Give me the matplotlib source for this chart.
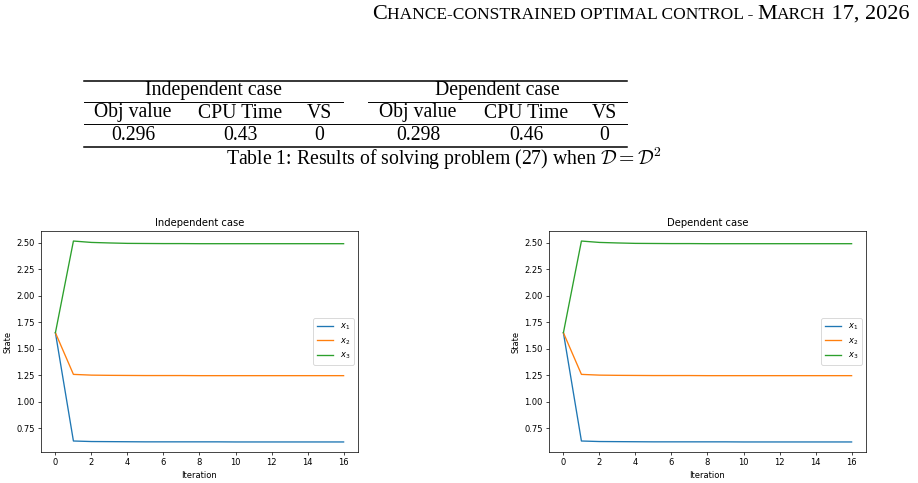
import numpy as np
import matplotlib
matplotlib.use("Agg")
import matplotlib.pyplot as plt
from matplotlib.lines import Line2D
from matplotlib.offsetbox import TextArea, HPacker, AnchoredOffsetbox

# ---- data ----
iterations = list(range(17))

indep_x1 = [1.65, 0.628, 0.623, 0.622, 0.621, 0.620, 0.620, 0.620, 0.620,
            0.620, 0.619, 0.619, 0.619, 0.619, 0.619, 0.619, 0.619]
indep_x2 = [1.65, 1.257, 1.250, 1.248, 1.247, 1.246, 1.246, 1.246, 1.245,
            1.245, 1.245, 1.245, 1.245, 1.245, 1.245, 1.245, 1.245]
indep_x3 = [1.65, 2.516, 2.503, 2.498, 2.494, 2.493, 2.492, 2.492, 2.491,
            2.491, 2.491, 2.491, 2.491, 2.491, 2.491, 2.491, 2.491]

dep_x1 = [1.65, 0.628, 0.623, 0.622, 0.621, 0.620, 0.620, 0.620, 0.620,
          0.620, 0.619, 0.619, 0.619, 0.619, 0.619, 0.619, 0.619]
dep_x2 = [1.65, 1.257, 1.250, 1.248, 1.247, 1.246, 1.246, 1.246, 1.245,
          1.245, 1.245, 1.245, 1.245, 1.245, 1.245, 1.245, 1.245]
dep_x3 = [1.65, 2.516, 2.503, 2.498, 2.494, 2.493, 2.492, 2.492, 2.491,
          2.491, 2.491, 2.491, 2.491, 2.491, 2.491, 2.491, 2.491]

table_groups = ["Independent case", "Dependent case"]
table_cols = ["Obj value", "CPU Time", "VS"]
table_indep = ["0.296", "0.43", "0"]
table_dep = ["0.298", "0.46", "0"]

W, H = 918, 483


def fx(x):
    return x / W


def fy(y):
    return 1 - y / H


# the embedded matplotlib figures were shrunk to ~64% of their size
s = 0.64
ts = 0.6  # text looks a touch smaller than the line scaling
plt.rcParams.update({
    "font.size": 10 * ts,
    "axes.titlesize": 12 * ts,
    "axes.labelsize": 10 * ts,
    "legend.fontsize": 10 * ts,
    "axes.linewidth": 0.8 * s,
    "lines.linewidth": 1.5 * s,
    "patch.linewidth": 1.0 * s,
    "xtick.major.width": 0.8 * s,
    "ytick.major.width": 0.8 * s,
    "xtick.major.size": 3.5 * s,
    "ytick.major.size": 3.5 * s,
    "xtick.major.pad": 3.5 * s,
    "ytick.major.pad": 3.5 * s,
    "axes.titlepad": 6 * s,
    "axes.labelpad": 4 * s,
    "mathtext.fontset": "dejavusans",
})

fig = plt.figure(figsize=(W / 100, H / 100), dpi=100)

# ---- running header (small caps imitation) ----
serif = "Liberation Serif"
big, small = 16, 12.5
pieces = [("C", big), ("HANCE-CONSTRAINED OPTIMAL CONTROL - ", small),
          ("M", big), ("ARCH", small), (" 17, 2026", big)]
areas = [TextArea(t, textprops=dict(fontsize=fs, family=serif, color="black"))
         for t, fs in pieces]
box = HPacker(children=areas, align="baseline", pad=0, sep=0)
anch = AnchoredOffsetbox(loc="upper right", child=box, pad=0, borderpad=0,
                         frameon=False, bbox_to_anchor=(fx(909), fy(5)),
                         bbox_transform=fig.transFigure)
fig.add_artist(anch)

# ---- table ----
tfs = 14.2
rule_heavy = 1.1
rule_light = 0.7


def hline(x0, x1, y, lw):
    fig.add_artist(Line2D([fx(x0), fx(x1)], [fy(y), fy(y)], color="black",
                          lw=lw, transform=fig.transFigure))


hline(84, 627, 81, rule_heavy)
hline(84, 343, 102, rule_light)
hline(368, 627, 102, rule_light)
hline(84, 627, 124, rule_light)
hline(84, 627, 147, rule_heavy)

group_x = [213, 497]
col_x = [[133, 240, 319], [418, 526, 604]]
for g, gx, cx, vals in zip(table_groups, group_x, col_x, [table_indep, table_dep]):
    fig.text(fx(gx), fy(91), g, family=serif, fontsize=tfs, ha="center", va="center")
    for name, x, v in zip(table_cols, cx, vals):
        fig.text(fx(x), fy(113), name, family=serif, fontsize=tfs, ha="center", va="center")
        fig.text(fx(x), fy(135), v, family=serif, fontsize=tfs, ha="center", va="center")

fig.text(fx(444), fy(159),
         r"Table 1: Results of solving problem (27) when $\mathcal{D}=\mathcal{D}^2$",
         family=serif, fontsize=tfs, ha="center", va="center",
         math_fontfamily="cm")

# ---- plots ----
panels = [
    ("Independent case", 41, [indep_x1, indep_x2, indep_x3]),
    ("Dependent case", 549, [dep_x1, dep_x2, dep_x3]),
]
for title, left, series in panels:
    ax = fig.add_axes([fx(left), fy(452), 317 / W, 221 / H])
    for vals, lab in zip(series, [r"$x_1$", r"$x_2$", r"$x_3$"]):
        ax.plot(iterations, vals, label=lab)
    ax.set_title(title)
    ax.set_xlabel("Iteration")
    ax.set_ylabel("State")
    ax.set_xticks(range(0, 17, 2))
    ax.set_yticks([0.75, 1.00, 1.25, 1.50, 1.75, 2.00, 2.25, 2.50])
    ax.legend(loc="center right")

fig.savefig("out.png", dpi=100)
